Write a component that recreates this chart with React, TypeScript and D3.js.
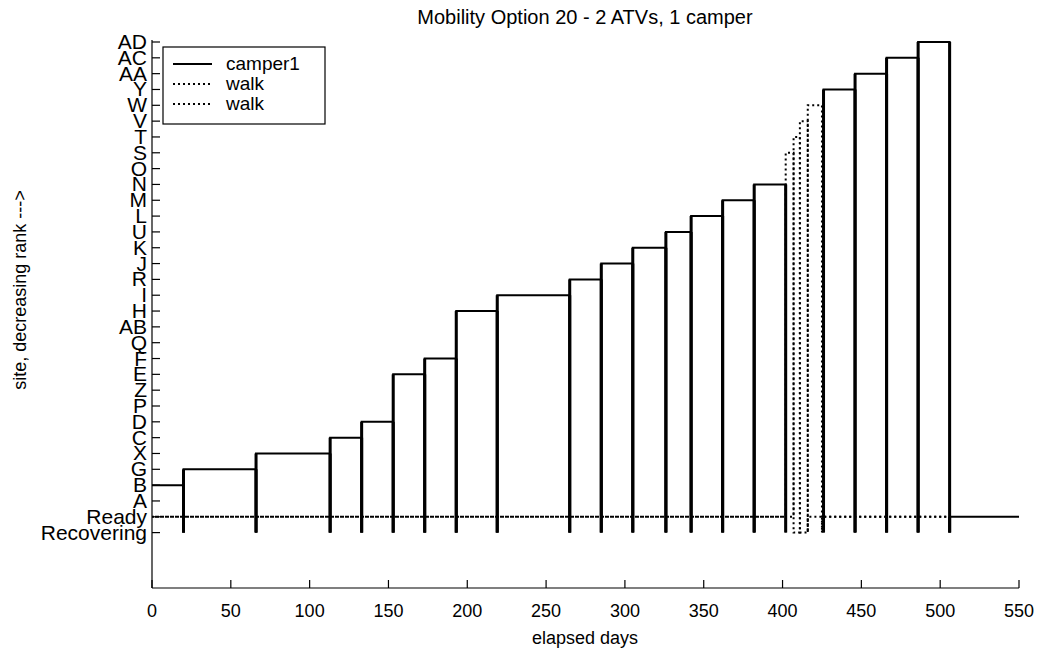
import React from "react";
import * as d3 from "d3";

// y-axis categories, bottom to top
const siteLabels: string[] = [
  "Recovering", "Ready", "A", "B", "G", "X", "C", "D", "P", "Z", "E", "F", "Q", "AB", "H", "I",
  "R", "J", "K", "U", "L", "M", "N", "O", "S", "T", "V", "W", "Y", "AA", "AC", "AD",
];

const xTicks: number[] = [0, 50, 100, 150, 200, 250, 300, 350, 400, 450, 500, 550];

// camper1: [day, site] path; null = gap
const camperPath: ([number, string] | null)[] = [
  [0, "B"], [20, "B"], [20, "Recovering"], [20, "G"], [66, "G"], [66, "Recovering"], [66, "X"],
  [113, "X"], [113, "Recovering"], [113, "C"], [133, "C"], [133, "Recovering"], [133, "D"],
  [153, "D"], [153, "Recovering"], [153, "E"], [173, "E"], [173, "Recovering"], [173, "F"],
  [193, "F"], [193, "Recovering"], [193, "H"], [219, "H"], [219, "Recovering"], [219, "I"],
  [265, "I"], [265, "Recovering"], [265, "R"], [285, "R"], [285, "Recovering"], [285, "J"],
  [305, "J"], [305, "Recovering"], [305, "K"], [326, "K"], [326, "Recovering"], [326, "U"],
  [342, "U"], [342, "Recovering"], [342, "L"], [362, "L"], [362, "Recovering"], [362, "M"],
  [382, "M"], [382, "Recovering"], [382, "N"], [402, "N"], [402, "Recovering"], null,
  [426, "Recovering"], [426, "Y"], [446, "Y"], [446, "Recovering"], [446, "AA"],
  [466, "AA"], [466, "Recovering"], [466, "AC"], [486, "AC"], [486, "Recovering"], [486, "AD"],
  [506, "AD"], [506, "Recovering"], [506, "Ready"], [550, "Ready"],
];

const walk1Path: [number, string][] = [
  [0, "Ready"], [402, "Ready"], [402, "S"], [407, "S"], [407, "Recovering"], [411, "Recovering"],
  [411, "V"], [416, "V"], [416, "Recovering"], [416, "Ready"], [506, "Ready"],
];

const walk2Path: [number, string][] = [
  [0, "Ready"], [407, "Ready"], [407, "T"], [411, "T"], [411, "Recovering"], [416, "Recovering"],
  [416, "W"], [425, "W"], [425, "Recovering"], [425, "Ready"], [506, "Ready"],
];

const legendItems: { name: string; dash: string | null }[] = [
  { name: "camper1", dash: null },
  { name: "walk", dash: "2,3" },
  { name: "walk", dash: "2,3" },
];

const FONT = "'Liberation Sans', Arial, sans-serif";

export default function App() {
  const W = 1041, H = 660;
  const x = d3.scaleLinear().domain([0, 550]).range([152, 1019]);
  const y = d3.scaleLinear().domain([-3.5, 31]).range([588, 42]);
  const yi = (s: string) => y(siteLabels.indexOf(s));

  const line = d3
    .line<[number, string] | null>()
    .defined((d) => d !== null)
    .x((d) => x((d as [number, string])[0]))
    .y((d) => yi((d as [number, string])[1]));

  // vertical transition segments of camper (drawn thicker)
  const verticals: { x: number; y1: number; y2: number }[] = [];
  for (let i = 1; i < camperPath.length; i++) {
    const a = camperPath[i - 1], b = camperPath[i];
    if (a && b && a[0] === b[0]) verticals.push({ x: x(a[0]), y1: yi(a[1]), y2: yi(b[1]) });
  }

  return (
    <svg width={W} height={H} style={{ position: "absolute", left: 0, top: 0, background: "#fff" }}>
      <rect x={0} y={0} width={W} height={H} fill="#fff" />
      {/* title */}
      <text x={585} y={24} textAnchor="middle" fontFamily={FONT} fontSize={20}>
        Mobility Option 20 - 2 ATVs, 1 camper
      </text>

      {/* walk lines */}
      <path d={line(walk1Path) || ""} fill="none" stroke="#000" strokeWidth={2} strokeDasharray="2,3" />
      <path d={line(walk2Path) || ""} fill="none" stroke="#000" strokeWidth={2} strokeDasharray="2,3" strokeDashoffset={2} />

      {/* camper */}
      <path d={line(camperPath) || ""} fill="none" stroke="#000" strokeWidth={2} />
      {verticals.map((v, i) => (
        <line key={i} x1={v.x} x2={v.x} y1={v.y1} y2={v.y2} stroke="#000" strokeWidth={3} />
      ))}

      {/* axes */}
      <line x1={152} x2={152} y1={40} y2={588} stroke="#000" strokeWidth={1.2} />
      <line x1={152} x2={1019} y1={588} y2={588} stroke="#000" strokeWidth={1.2} />
      {xTicks.map((t) => (
        <g key={t}>
          <line x1={x(t)} x2={x(t)} y1={588} y2={580} stroke="#000" strokeWidth={1.2} />
          <text x={x(t)} y={617} textAnchor="middle" fontFamily={FONT} fontSize={18}>
            {t}
          </text>
        </g>
      ))}
      {siteLabels.map((s, i) => (
        <g key={s}>
          <line x1={152} x2={160} y1={y(i)} y2={y(i)} stroke="#000" strokeWidth={1.2} />
          <text x={147} y={y(i) + 7} textAnchor="end" fontFamily={FONT} fontSize={21}>
            {s}
          </text>
        </g>
      ))}

      {/* axis labels */}
      <text x={585} y={644} textAnchor="middle" fontFamily={FONT} fontSize={18}>
        elapsed days
      </text>
      <text
        transform="translate(26,290) rotate(-90)"
        textAnchor="middle"
        fontFamily={FONT}
        fontSize={18}
      >
        site, decreasing rank ---&gt;
      </text>

      {/* legend */}
      <rect x={163} y={47} width={162} height={77} fill="#fff" stroke="#000" strokeWidth={1.2} />
      {legendItems.map((it, i) => (
        <g key={i}>
          <line
            x1={173}
            x2={212}
            y1={64 + i * 20}
            y2={64 + i * 20}
            stroke="#000"
            strokeWidth={2}
            strokeDasharray={it.dash || undefined}
          />
          <text x={226} y={70 + i * 20} fontFamily={FONT} fontSize={19}>
            {it.name}
          </text>
        </g>
      ))}
    </svg>
  );
}
